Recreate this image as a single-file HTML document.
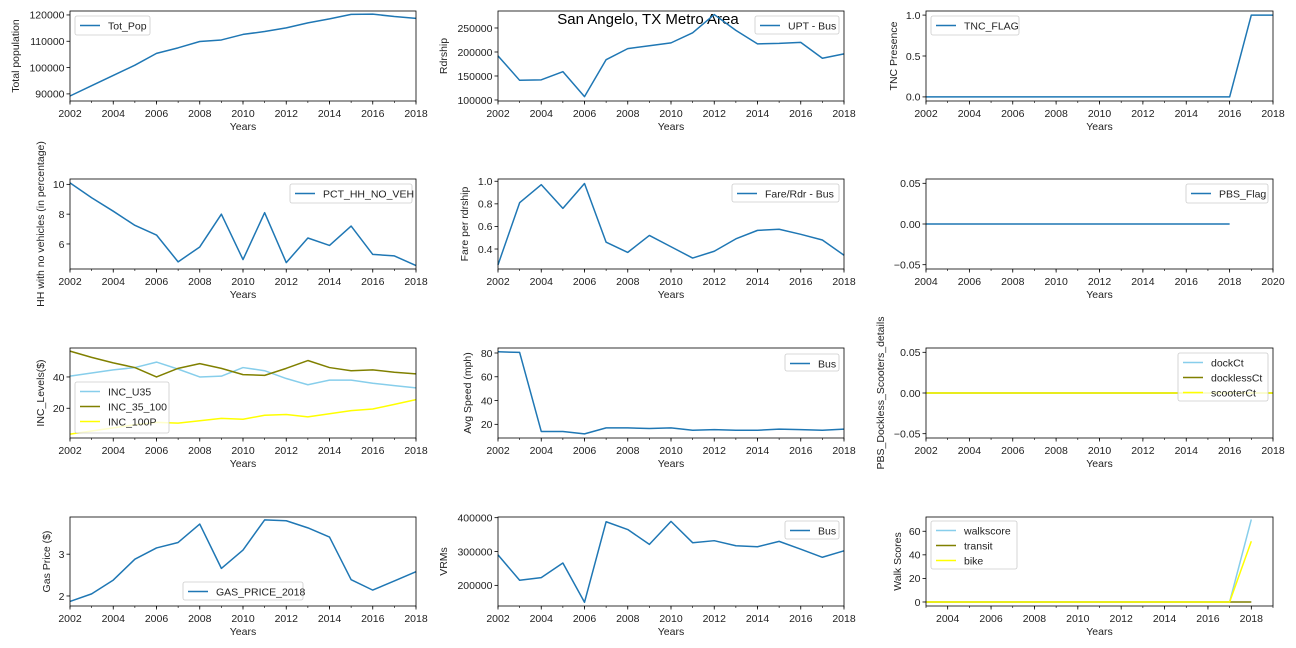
<!DOCTYPE html>
<html><head><meta charset="utf-8"><style>
html,body{margin:0;padding:0;background:#fff;}
svg{display:block;font-family:"Liberation Sans","DejaVu Sans",sans-serif;}
</style></head><body>
<svg id="fig" width="1296" height="648" xmlns="http://www.w3.org/2000/svg">
<text x="648" y="24" text-anchor="middle" font-size="15" fill="#000">San Angelo, TX Metro Area</text>
</svg>
<script>
const years = [2002,2003,2004,2005,2006,2007,2008,2009,2010,2011,2012,2013,2014,2015,2016,2017,2018];
const totPop = [89200,93100,97000,100900,105400,107500,109900,110500,112600,113700,115100,117000,118500,120200,120300,119400,118700];
const pctNoVeh = [10.1,9.1,8.2,7.25,6.6,4.8,5.8,8.0,4.95,8.1,4.75,6.4,5.9,7.2,5.3,5.2,4.55];
const incU35 = [40.5,42.5,44.5,46,49.5,45,40,40.5,46,44,39,35,38,38,36,34.5,33];
const inc35100 = [56.5,52.5,49,46,40,45.5,48.5,45.5,41.5,41,45.5,50.5,46,44,44.5,43,42];
const inc100P = [3.5,5.5,7.5,9.5,11,10.5,12,13.5,13,15.5,16,14.5,16.5,18.5,19.5,22.5,25.5];
const gasPrice = [1.87,2.05,2.38,2.88,3.15,3.28,3.72,2.66,3.1,3.82,3.8,3.63,3.41,2.39,2.14,2.36,2.58];
const uptBus = [192000,141000,142000,159000,107000,184000,207000,213000,219000,240000,278000,245000,217000,218000,220000,187000,196000];
const fareRdr = [0.26,0.81,0.97,0.76,0.98,0.46,0.37,0.52,0.42,0.32,0.38,0.49,0.565,0.575,0.53,0.48,0.345];
const avgSpeed = [81,80.5,14,14,12,17,17,16.5,17,15,15.5,15,15,16,15.5,15,16];
const vrms = [290000,215000,223000,266000,150000,388000,365000,321000,389000,326000,332000,317000,314000,330000,307000,283000,302000];
const tncFlag = [0,0,0,0,0,0,0,0,0,0,0,0,0,0,0,1,1];
const pbsYears = [2004,2005,2006,2007,2008,2009,2010,2011,2012,2013,2014,2015,2016,2017,2018];
const pbsFlag = [0,0,0,0,0,0,0,0,0,0,0,0,0,0,0];
const dockCt = [0,0,0,0,0,0,0,0,0,0,0,0,0,0,0,0,0];
const docklessCt = [0,0,0,0,0,0,0,0,0,0,0,0,0,0,0,0,0];
const scooterCt = [0,0,0,0,0,0,0,0,0,0,0,0,0,0,0,0,0];
const walkYears = [2003,2004,2005,2006,2007,2008,2009,2010,2011,2012,2013,2014,2015,2016,2017,2018];
const walkscore = [0,0,0,0,0,0,0,0,0,0,0,0,0,0,0,70];
const transit = [0,0,0,0,0,0,0,0,0,0,0,0,0,0,0,0];
const bike = [0,0,0,0,0,0,0,0,0,0,0,0,0,0,0,51.5];
const xTicks = [2002,2004,2006,2008,2010,2012,2014,2016,2018];
const xTicksPbs = [2004,2006,2008,2010,2012,2014,2016,2018,2020];
const xTicksWalk = [2004,2006,2008,2010,2012,2014,2016,2018];

const NS='http://www.w3.org/2000/svg';
const svg=document.getElementById('fig');
const BLUE='#1f77b4',SKY='#87ceeb',OLIVE='#808000',YEL='#ffff00';
const FS=10.5;
function mk(tag,attrs,parent){const e=document.createElementNS(NS,tag);for(const k in attrs)e.setAttribute(k,attrs[k]);(parent||svg).appendChild(e);return e;}

function panel(p){
  const g=mk('g',{});
  
  
  const X=v=>p.x0+(v-p.xmin)/(p.xmax-p.xmin)*(p.x1-p.x0);
  const Y=v=>p.y1-(v-p.ymin)/(p.ymax-p.ymin)*(p.y1-p.y0);
  p.series.forEach(s=>{
    const pts=s.ys.map((v,i)=>X(s.xs[i]).toFixed(2)+','+Y(v).toFixed(2)).join(' ');
    const pl=mk('polyline',{points:pts,fill:'none',stroke:s.color,'stroke-width':1.5,'stroke-linejoin':'round'},g);
    
    
  });
  const fr=mk('rect',{x:p.x0,y:p.y0,width:p.x1-p.x0,height:p.y1-p.y0,fill:'none',stroke:'#000','stroke-width':0.8},g);
  
  
  const xg=mk('g',{},g);
  
  
  for(let m=Math.ceil(p.xmin);m<=p.xmax;m++){
    const x=X(m);
    mk('line',{x1:x,x2:x,y1:p.y1,y2:p.y1+2,stroke:'#000','stroke-width':0.6},xg);
  }
  p.xt.forEach(t=>{
    const x=X(t);
    mk('line',{x1:x,x2:x,y1:p.y1,y2:p.y1+3.5,stroke:'#000','stroke-width':0.8},xg);
    const tx=mk('text',{x:x,y:p.y1+16,'text-anchor':'middle','font-size':FS,fill:'#222'},xg);
    tx.textContent=t;
  });
  const xl=mk('text',{x:(p.x0+p.x1)/2,y:p.y1+29,'text-anchor':'middle','font-size':FS,fill:'#222'},g);
  xl.textContent='Years';
  
  
  const yg=mk('g',{},g);
  
  
  p.yt.forEach((t,i)=>{
    const y=Y(t);
    mk('line',{x1:p.x0-3.5,x2:p.x0,y1:y,y2:y,stroke:'#000','stroke-width':0.8},yg);
    const tx=mk('text',{x:p.x0-5.5,y:y+3.8,'text-anchor':'end','font-size':FS,fill:'#222'},yg);
    tx.textContent=p.ytl?p.ytl[i]:t;
  });
  if(p.ylabel){
    const cy=(p.y0+p.y1)/2;
    const yl=mk('text',{x:p.ylx,y:cy,'text-anchor':'middle','font-size':FS,fill:'#222',transform:'rotate(-90 '+p.ylx+' '+cy+')'},g);
    yl.textContent=p.ylabel;
    
    
  }
  const L=p.leg;
  const lg=mk('g',{},g);
  
  
  mk('rect',{x:L[0],y:L[1],width:L[2]-L[0],height:L[3]-L[1],rx:2,fill:'#fff','fill-opacity':0.8,stroke:'#ccc','stroke-width':0.8},lg);
  p.series.forEach((s,i)=>{
    const cy=L[1]+9.5+i*15;
    const e=mk('g',{},lg);
    
    
    mk('line',{x1:L[0]+5,x2:L[0]+25,y1:cy,y2:cy,stroke:s.color,'stroke-width':1.5},e);
    const tx=mk('text',{x:L[0]+33,y:cy+3.8,'font-size':FS,fill:'#222'},e);
    tx.textContent=s.label;
  });
}

const C1=[70,416],C2=[498,844],C3=[926,1273];
const R1=[11,101],R2=[179,269],R3=[348,438],R4=[517,606];
const P=(c,r,o)=>Object.assign({x0:c[0],x1:c[1],y0:r[0],y1:r[1],xmin:2002,xmax:2018,xt:xTicks},o);

panel(P(C1,R1,{name:'total-population-panel',ymin:87300,ymax:121500,yt:[90000,100000,110000,120000],ylabel:'Total population',ylx:19,leg:[75,16,150,35],
  series:[{xs:years,ys:totPop,color:BLUE,label:'Tot_Pop'}]}));
panel(P(C1,R2,{name:'no-vehicle-panel',ymin:4.32,ymax:10.36,yt:[6,8,10],ylabel:'HH with no vehicles (in percentage)',ylx:44,leg:[290,184,412,203],
  series:[{xs:years,ys:pctNoVeh,color:BLUE,label:'PCT_HH_NO_VEH'}]}));
panel(P(C1,R3,{name:'income-levels-panel',ymin:1,ymax:58.5,yt:[20,40],ylabel:'INC_Levels($)',ylx:44,leg:[75,382,169,433],
  series:[{xs:years,ys:incU35,color:SKY,label:'INC_U35'},{xs:years,ys:inc35100,color:OLIVE,label:'INC_35_100'},{xs:years,ys:inc100P,color:YEL,label:'INC_100P'}]}));
panel(P(C1,R4,{name:'gas-price-panel',ymin:1.76,ymax:3.89,yt:[2,3],ylabel:'Gas Price ($)',ylx:50,leg:[183,582,303,600],
  series:[{xs:years,ys:gasPrice,color:BLUE,label:'GAS_PRICE_2018'}]}));

panel(P(C2,R1,{name:'ridership-panel',ymin:97900,ymax:285400,yt:[100000,150000,200000,250000],ylabel:'Rdrship',ylx:447,leg:[755,16,839,34],
  series:[{xs:years,ys:uptBus,color:BLUE,label:'UPT - Bus'}]}));
panel(P(C2,R2,{name:'fare-panel',ymin:0.223,ymax:1.02,yt:[0.4,0.6,0.8,1.0],ytl:['0.4','0.6','0.8','1.0'],ylabel:'Fare per rdrship',ylx:468,leg:[732,184,839,202],
  series:[{xs:years,ys:fareRdr,color:BLUE,label:'Fare/Rdr - Bus'}]}));
panel(P(C2,R3,{name:'avg-speed-panel',ymin:8.5,ymax:84.2,yt:[20,40,60,80],ylabel:'Avg Speed (mph)',ylx:471,leg:[785,354,839,371],
  series:[{xs:years,ys:avgSpeed,color:BLUE,label:'Bus'}]}));
panel(P(C2,R4,{name:'vrms-panel',ymin:139000,ymax:402000,yt:[200000,300000,400000],ylabel:'VRMs',ylx:447,leg:[785,521,839,539],
  series:[{xs:years,ys:vrms,color:BLUE,label:'Bus'}]}));

panel(P(C3,R1,{name:'tnc-panel',ymin:-0.05,ymax:1.05,yt:[0,0.5,1],ytl:['0.0','0.5','1.0'],ylabel:'TNC Presence',ylx:897,leg:[931,16,1019,35],
  series:[{xs:years,ys:tncFlag,color:BLUE,label:'TNC_FLAG'}]}));
panel(P(C3,R2,{name:'pbs-flag-panel',xmin:2004,xmax:2020,xt:xTicksPbs,ymin:-0.0553,ymax:0.0553,yt:[-0.05,0,0.05],ytl:['\u22120.05','0.00','0.05'],leg:[1186,184,1268,203],
  series:[{xs:pbsYears,ys:pbsFlag,color:BLUE,label:'PBS_Flag'}]}));
panel(P(C3,R3,{name:'pbs-dockless-panel',ymin:-0.0553,ymax:0.0553,yt:[-0.05,0,0.05],ytl:['\u22120.05','0.00','0.05'],ylabel:'PBS_Dockless_Scooters_details',ylx:884,leg:[1178,353,1268,401],
  series:[{xs:years,ys:dockCt,color:SKY,label:'dockCt'},{xs:years,ys:docklessCt,color:OLIVE,label:'docklessCt'},{xs:years,ys:scooterCt,color:YEL,label:'scooterCt'}]}));
panel(P(C3,R4,{name:'walk-scores-panel',xmin:2003,xmax:2019,xt:xTicksWalk,ymin:-3.4,ymax:72.1,yt:[0,20,40,60],ylabel:'Walk Scores',ylx:901,leg:[931,521,1017,569],
  series:[{xs:walkYears,ys:walkscore,color:SKY,label:'walkscore'},{xs:walkYears,ys:transit,color:OLIVE,label:'transit'},{xs:walkYears,ys:bike,color:YEL,label:'bike'}]}));
</script>
</body></html>
